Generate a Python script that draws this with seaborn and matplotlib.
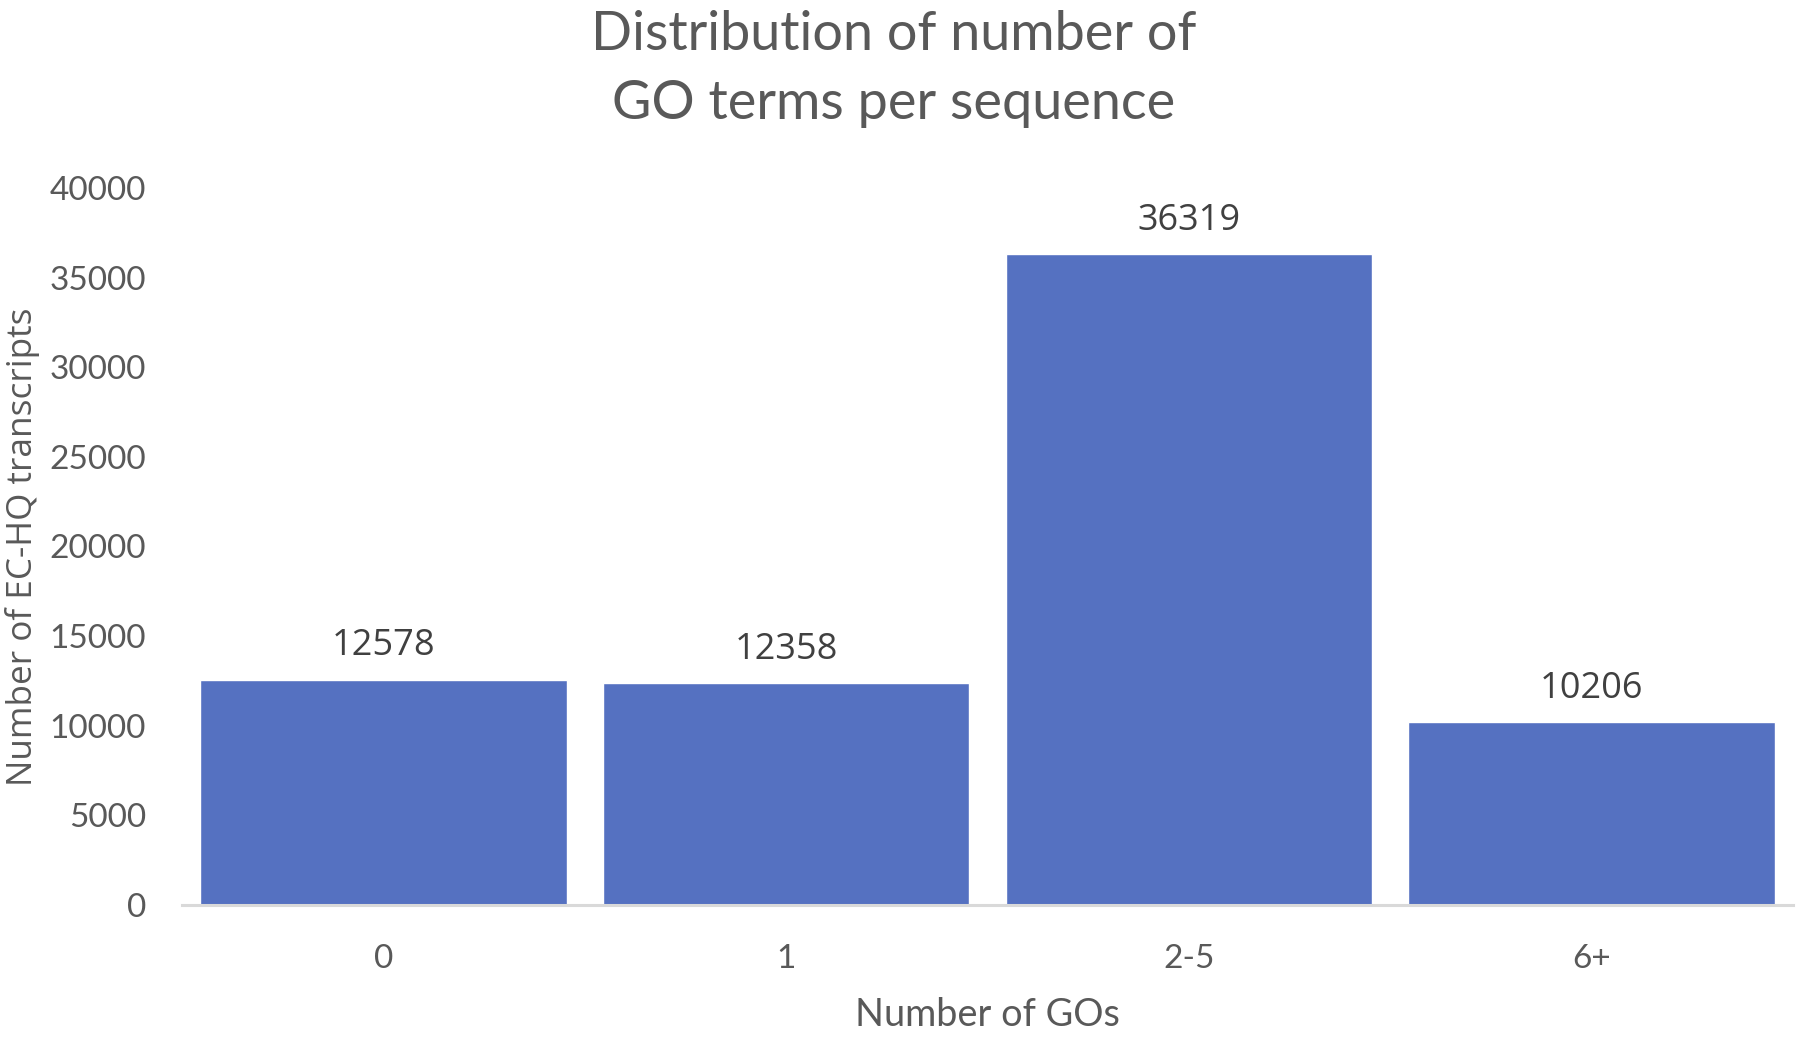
import matplotlib
matplotlib.use("Agg")
import matplotlib.pyplot as plt
import seaborn as sns
import pandas as pd

categories = ["0", "1", "2-5", "6+"]
counts = [12578, 12358, 36319, 10206]
yticks = [0, 5000, 10000, 15000, 20000, 25000, 30000, 35000, 40000]

title = "Distribution of number of\nGO terms per sequence"
xlabel = "Number of GOs"
ylabel = "Number of EC-HQ transcripts"

sns.set_style("white")
plt.rcParams["font.family"] = ["Lato", "DejaVu Sans"]

df = pd.DataFrame({"cat": categories, "n": counts})

fig = plt.figure(figsize=(18.04, 10.37), dpi=100)
ax = fig.add_axes([182/1804, (1037-905)/1037, (1793-182)/1804, (905-188)/1037])

sns.barplot(data=df, x="cat", y="n", color="#5571C1", saturation=1,
            width=0.91, ax=ax, order=categories)

ax.set_xlim(-0.5, 3.5)
ax.set_ylim(0, 40000)
ax.set_yticks(yticks)
ax.set_yticklabels([str(v) for v in yticks])

for s in ["top", "right", "left"]:
    ax.spines[s].set_visible(False)
ax.spines["bottom"].set_color("#D9D9D9")
ax.spines["bottom"].set_linewidth(2.2)
ax.tick_params(axis="both", length=0, colors="#595959", labelsize=24)
ax.tick_params(axis="y", pad=26)
ax.tick_params(axis="x", pad=28)

ax.set_xlabel(xlabel, fontsize=27.3, color="#595959", labelpad=17)
ax.set_ylabel(ylabel, fontsize=25.3, color="#595959", labelpad=7,
              family=["Open Sans", "DejaVu Sans"])

for c in ax.containers:
    ax.bar_label(c, labels=[str(v) for v in counts], padding=11,
                 fontsize=26, color="#404040", family=["Open Sans", "DejaVu Sans"])

fig.text(894/1804, 1 - 69/1037, title, ha="center", va="center",
         fontsize=38.9, color="#595959", linespacing=1.52)

fig.savefig("out.png", dpi=100, facecolor="white")
